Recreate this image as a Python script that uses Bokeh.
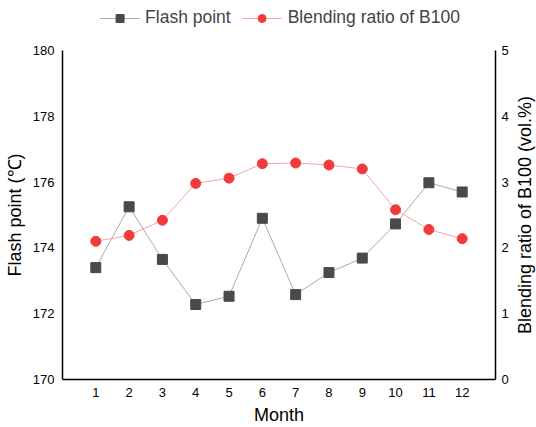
from bokeh.plotting import figure
from bokeh.layouts import column, row
from bokeh.models import Range1d, LinearAxis, FixedTicker, Legend, LegendItem
from bokeh.embed import file_html
from bokeh.resources import INLINE

months = [1, 2, 3, 4, 5, 6, 7, 8, 9, 10, 11, 12]
flash_point = [173.4, 175.25, 173.65, 172.28, 172.53, 174.9, 172.58, 173.25, 173.69, 174.73, 175.98, 175.7]
blending_ratio = [2.10, 2.19, 2.42, 2.98, 3.06, 3.28, 3.29, 3.26, 3.20, 2.58, 2.28, 2.14]
left_ticks = [170, 172, 174, 176, 178, 180]
right_ticks = [0, 1, 2, 3, 4, 5]

FONT = "Liberation Sans"
LEG_H = 40
SIDE_W = 25
MAIN_H = 427 - LEG_H
TOP_B = 50 - LEG_H
BOT_B = 46

FP_LINE = "#aaaaaa"
FP_MARK = "#4a4a4a"
BR_LINE = "#f7a3a3"
BR_MARK = "#f23a3c"

p = figure(width=536 - SIDE_W, height=MAIN_H, output_backend="svg", toolbar_location=None,
           x_range=Range1d(0, 13), y_range=Range1d(170, 180),
           min_border_left=62, min_border_right=14, min_border_top=TOP_B, min_border_bottom=BOT_B)
p.extra_y_ranges = {"ratio": Range1d(0, 5)}
p.outline_line_color = None
p.xgrid.visible = False
p.ygrid.visible = False
p.background_fill_color = "white"
p.border_fill_color = "white"

right = LinearAxis(y_range_name="ratio")
p.add_layout(right, "right")

for ax in [p.xaxis[0], p.yaxis[0], right]:
    ax.major_tick_line_color = None
    ax.minor_tick_line_color = None
    ax.major_tick_out = 0
    ax.major_tick_in = 0
    ax.axis_line_color = "black"
    ax.axis_line_width = 1.5
    ax.major_label_text_font = FONT
    ax.major_label_text_font_size = "13px"
    ax.major_label_text_color = "black"
    ax.axis_label_text_font = FONT
    ax.axis_label_text_font_size = "18px"
    ax.axis_label_text_font_style = "normal"
    ax.axis_label_text_color = "black"

p.xaxis[0].ticker = FixedTicker(ticks=months)
p.yaxis[0].ticker = FixedTicker(ticks=left_ticks)
right.ticker = FixedTicker(ticks=right_ticks)
p.xaxis[0].axis_label = "Month"
p.yaxis[0].axis_label = "Flash point (℃)"
p.xaxis[0].major_label_standoff = 8
p.yaxis[0].major_label_standoff = 8
right.major_label_standoff = 6

p.line(months, flash_point, line_color=FP_LINE, line_width=1)
p.scatter(months, flash_point, marker="square", size=10, fill_color=FP_MARK, line_color=FP_MARK)
p.line(months, blending_ratio, line_color=BR_LINE, line_width=1, y_range_name="ratio")
p.scatter(months, blending_ratio, marker="circle", size=10, fill_color=BR_MARK, line_color=BR_MARK, y_range_name="ratio")

# narrow strip on the right that carries the right axis title (reads bottom to top)
side = figure(width=SIDE_W, height=MAIN_H, output_backend="svg", toolbar_location=None,
              x_range=Range1d(0, 1), y_range=Range1d(0, 1),
              min_border_left=SIDE_W - 1, min_border_right=0, min_border_top=TOP_B, min_border_bottom=BOT_B)
side.xaxis.visible = False
side.grid.visible = False
side.outline_line_color = None
side.background_fill_color = "white"
side.border_fill_color = "white"
sax = side.yaxis[0]
sax.ticker = FixedTicker(ticks=[])
sax.axis_line_color = None
sax.major_tick_line_color = None
sax.minor_tick_line_color = None
sax.major_tick_out = 0
sax.major_tick_in = 0
sax.major_label_standoff = 0
sax.axis_label = "Blending ratio of B100 (vol.%)"
sax.axis_label_standoff = 2
sax.axis_label_text_font = FONT
sax.axis_label_text_font_size = "18px"
sax.axis_label_text_font_style = "normal"
sax.axis_label_text_color = "black"

# legend strip above the chart (its series lie outside this strip's range, only the legend shows)
lg = figure(width=536, height=LEG_H, output_backend="svg", toolbar_location=None,
            x_range=Range1d(0, 13), y_range=Range1d(0, 1),
            min_border_left=62, min_border_right=39, min_border_top=0, min_border_bottom=0)
lg.axis.visible = False
lg.grid.visible = False
lg.outline_line_color = None
lg.border_fill_color = "white"
ll1 = lg.line(months, flash_point, line_color=FP_LINE, line_width=1)
ls1 = lg.scatter(months, flash_point, marker="square", size=10, fill_color=FP_MARK, line_color=FP_MARK)
ll2 = lg.line(months, flash_point, line_color=BR_LINE, line_width=1)
ls2 = lg.scatter(months, flash_point, marker="circle", size=10, fill_color=BR_MARK, line_color=BR_MARK)

legend = Legend(items=[LegendItem(label="Flash point", renderers=[ll1, ls1]),
                       LegendItem(label="Blending ratio of B100", renderers=[ll2, ls2])],
                orientation="horizontal", location="top_center",
                glyph_width=40, label_standoff=6, spacing=11, padding=0, margin=7,
                label_text_font=FONT, label_text_font_size="17.5px",
                border_line_color=None, background_fill_alpha=0)
lg.add_layout(legend, "center")

layout = column(lg, row(p, side, spacing=0), spacing=0)
open("out.html", "w").write(file_html(layout, INLINE))
